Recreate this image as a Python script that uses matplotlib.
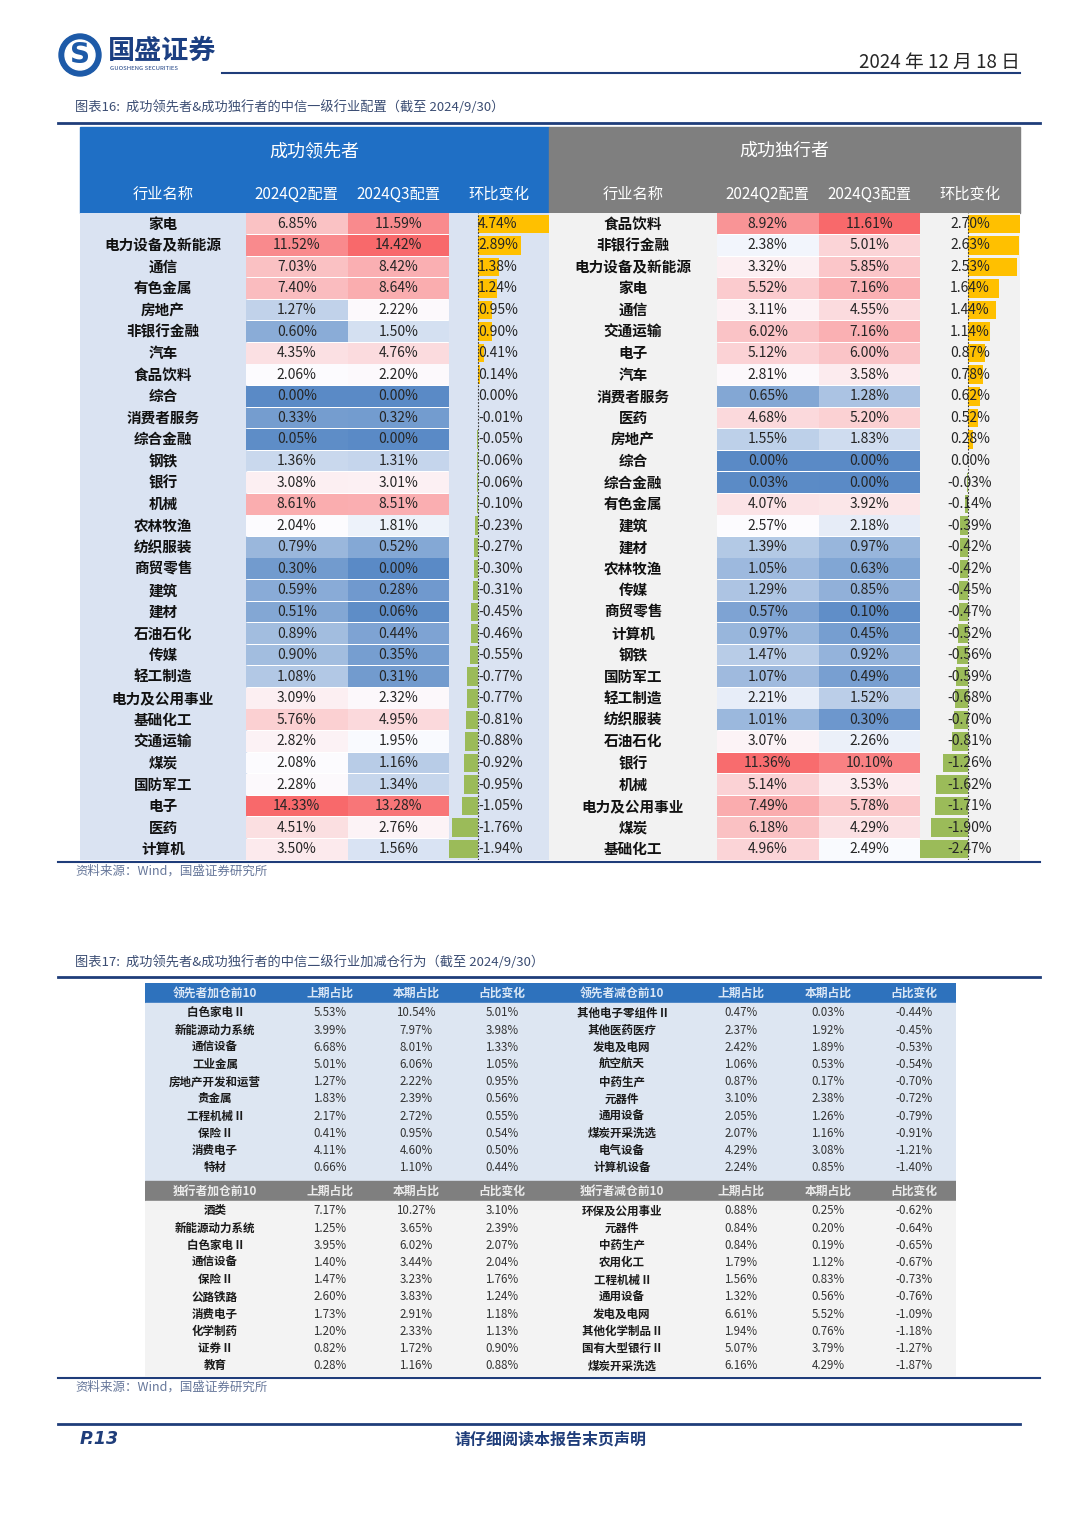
import numpy as np
import matplotlib
matplotlib.use('Agg')
import matplotlib.pyplot as plt
from matplotlib.colors import LinearSegmentedColormap, TwoSlopeNorm
from matplotlib.patches import Rectangle, Circle
from matplotlib.transforms import blended_transform_factory

plt.rcParams['font.family'] = ['Noto Sans CJK SC', 'DejaVu Sans']

# ---------------- data: figure 16 ----------------
names_L = ['家电', '电力设备及新能源', '通信', '有色金属', '房地产', '非银行金融', '汽车', '食品饮料',
           '综合', '消费者服务', '综合金融', '钢铁', '银行', '机械', '农林牧渔', '纺织服装', '商贸零售',
           '建筑', '建材', '石油石化', '传媒', '轻工制造', '电力及公用事业', '基础化工', '交通运输',
           '煤炭', '国防军工', '电子', '医药', '计算机']
q2_L = [6.85, 11.52, 7.03, 7.40, 1.27, 0.60, 4.35, 2.06, 0.00, 0.33, 0.05, 1.36, 3.08, 8.61, 2.04,
        0.79, 0.30, 0.59, 0.51, 0.89, 0.90, 1.08, 3.09, 5.76, 2.82, 2.08, 2.28, 14.33, 4.51, 3.50]
q3_L = [11.59, 14.42, 8.42, 8.64, 2.22, 1.50, 4.76, 2.20, 0.00, 0.32, 0.00, 1.31, 3.01, 8.51, 1.81,
        0.52, 0.00, 0.28, 0.06, 0.44, 0.35, 0.31, 2.32, 4.95, 1.95, 1.16, 1.34, 13.28, 2.76, 1.56]
chg_L = [4.74, 2.89, 1.38, 1.24, 0.95, 0.90, 0.41, 0.14, 0.00, -0.01, -0.05, -0.06, -0.06, -0.10,
         -0.23, -0.27, -0.30, -0.31, -0.45, -0.46, -0.55, -0.77, -0.77, -0.81, -0.88, -0.92, -0.95,
         -1.05, -1.76, -1.94]

names_R = ['食品饮料', '非银行金融', '电力设备及新能源', '家电', '通信', '交通运输', '电子', '汽车',
           '消费者服务', '医药', '房地产', '综合', '综合金融', '有色金属', '建筑', '建材', '农林牧渔',
           '传媒', '商贸零售', '计算机', '钢铁', '国防军工', '轻工制造', '纺织服装', '石油石化', '银行',
           '机械', '电力及公用事业', '煤炭', '基础化工']
q2_R = [8.92, 2.38, 3.32, 5.52, 3.11, 6.02, 5.12, 2.81, 0.65, 4.68, 1.55, 0.00, 0.03, 4.07, 2.57,
        1.39, 1.05, 1.29, 0.57, 0.97, 1.47, 1.07, 2.21, 1.01, 3.07, 11.36, 5.14, 7.49, 6.18, 4.96]
q3_R = [11.61, 5.01, 5.85, 7.16, 4.55, 7.16, 6.00, 3.58, 1.28, 5.20, 1.83, 0.00, 0.00, 3.92, 2.18,
        0.97, 0.63, 0.85, 0.10, 0.45, 0.92, 0.49, 1.52, 0.30, 2.26, 10.10, 3.53, 5.78, 4.29, 2.49]
chg_R = [2.70, 2.63, 2.53, 1.64, 1.44, 1.14, 0.87, 0.78, 0.62, 0.52, 0.28, 0.00, -0.03, -0.14, -0.39,
         -0.42, -0.42, -0.45, -0.47, -0.52, -0.56, -0.59, -0.68, -0.70, -0.81, -1.26, -1.62, -1.71,
         -1.90, -2.47]

head16_groups = ['成功领先者', '成功独行者']
head16_cols = ['行业名称', '2024Q2配置', '2024Q3配置', '环比变化']

# ---------------- data: figure 17 ----------------
lead_add_names = ['白色家电 II', '新能源动力系统', '通信设备', '工业金属', '房地产开发和运营', '贵金属',
                  '工程机械 II', '保险 II', '消费电子', '特材']
lead_add_prev = [5.53, 3.99, 6.68, 5.01, 1.27, 1.83, 2.17, 0.41, 4.11, 0.66]
lead_add_curr = [10.54, 7.97, 8.01, 6.06, 2.22, 2.39, 2.72, 0.95, 4.60, 1.10]
lead_add_chg = [5.01, 3.98, 1.33, 1.05, 0.95, 0.56, 0.55, 0.54, 0.50, 0.44]

lead_cut_names = ['其他电子零组件 II', '其他医药医疗', '发电及电网', '航空航天', '中药生产', '元器件',
                  '通用设备', '煤炭开采洗选', '电气设备', '计算机设备']
lead_cut_prev = [0.47, 2.37, 2.42, 1.06, 0.87, 3.10, 2.05, 2.07, 4.29, 2.24]
lead_cut_curr = [0.03, 1.92, 1.89, 0.53, 0.17, 2.38, 1.26, 1.16, 3.08, 0.85]
lead_cut_chg = [-0.44, -0.45, -0.53, -0.54, -0.70, -0.72, -0.79, -0.91, -1.21, -1.40]

solo_add_names = ['酒类', '新能源动力系统', '白色家电 II', '通信设备', '保险 II', '公路铁路', '消费电子',
                  '化学制药', '证券 II', '教育']
solo_add_prev = [7.17, 1.25, 3.95, 1.40, 1.47, 2.60, 1.73, 1.20, 0.82, 0.28]
solo_add_curr = [10.27, 3.65, 6.02, 3.44, 3.23, 3.83, 2.91, 2.33, 1.72, 1.16]
solo_add_chg = [3.10, 2.39, 2.07, 2.04, 1.76, 1.24, 1.18, 1.13, 0.90, 0.88]

solo_cut_names = ['环保及公用事业', '元器件', '中药生产', '农用化工', '工程机械 II', '通用设备',
                  '发电及电网', '其他化学制品 II', '国有大型银行 II', '煤炭开采洗选']
solo_cut_prev = [0.88, 0.84, 0.84, 1.79, 1.56, 1.32, 6.61, 1.94, 5.07, 6.16]
solo_cut_curr = [0.25, 0.20, 0.19, 1.12, 0.83, 0.56, 5.52, 0.76, 3.79, 4.29]
solo_cut_chg = [-0.62, -0.64, -0.65, -0.67, -0.73, -0.76, -1.09, -1.18, -1.27, -1.87]

head17_top = ['领先者加仓前10', '上期占比', '本期占比', '占比变化', '领先者减仓前10', '上期占比', '本期占比', '占比变化']
head17_bot = ['独行者加仓前10', '上期占比', '本期占比', '占比变化', '独行者减仓前10', '上期占比', '本期占比', '占比变化']

# ---------------- figure ----------------
W, H = 1080, 1527
fig = plt.figure(figsize=(W / 100, H / 100), dpi=100)
fig.patch.set_facecolor('white')

NAVY = '#1f3d7a'
TITLE_C = '#3b4d73'
TXT = '#262626'


def add_ax(x0, y0, x1, y1, zorder=1):
    ax = fig.add_axes([x0 / W, 1 - y1 / H, (x1 - x0) / W, (y1 - y0) / H], zorder=zorder)
    ax.set_axis_off()
    return ax


pg = add_ax(0, 0, W, H, zorder=0)
pg.set_xlim(0, W)
pg.set_ylim(H, 0)

# header / logo
pg.add_patch(Circle((80, 55), 21, color='#1d5aa8'))
pg.add_patch(Circle((80, 55), 15, color='white'))
pg.text(80, 55, 'S', color='#1d5aa8', fontsize=20, fontweight='bold', ha='center', va='center',
        family=['DejaVu Sans'])
pg.text(108, 51, '国盛证券', fontsize=19.5, fontweight='bold', color='#1b3f82', va='center')
pg.text(110, 69, 'GUOSHENG SECURITIES', fontsize=4.3, color='#1b3f82', va='center')
pg.plot([222, 1020], [73, 73], color=NAVY, lw=1.5)
pg.text(1020, 62, '2024 年 12 月 18 日', fontsize=13.5, color=TXT, ha='right', va='center')

# figure 16 title
pg.text(75, 107, '图表16:  成功领先者&成功独行者的中信一级行业配置（截至 2024/9/30）', fontsize=9.5,
        color=TITLE_C, va='center')
pg.plot([58, 1040], [123, 123], color=NAVY, lw=2)

# ---------------- figure 16 tables ----------------
blue_white_red = LinearSegmentedColormap.from_list('bwr_xl', ['#5A8AC6', '#FCFCFF', '#F8696B'])
TOP, BOT = 213, 860
HEAD_TOP = 127

halves = [
    dict(x0=80, x1=549, name_w=166, col_w=101.5, hcol='#1f6fc5', bg='#dae3f2',
         names=names_L, q2=q2_L, q3=q3_L, chg=chg_L, group=head16_groups[0], chg_text='left'),
    dict(x0=549, x1=1020, name_w=168, col_w=101.5, hcol='#7f7f7f', bg='#f2f2f2',
         names=names_R, q2=q2_R, q3=q3_R, chg=chg_R, group=head16_groups[1], chg_text='center'),
]

for hf in halves:
    x0, x1 = hf['x0'], hf['x1']
    nw, cw = hf['name_w'], hf['col_w']
    xq2 = x0 + nw
    xq3 = xq2 + cw
    xc = xq3 + cw
    # header block
    pg.add_patch(Rectangle((x0, HEAD_TOP), x1 - x0, TOP - HEAD_TOP, color=hf['hcol']))
    pg.text((x0 + x1) / 2, 151, hf['group'], color='white', fontsize=13, ha='center', va='center')
    centers = [x0 + nw / 2, xq2 + cw / 2, xq3 + cw / 2, (xc + x1) / 2]
    for cx, lab in zip(centers, head16_cols):
        pg.text(cx, 194, lab, color='white', fontsize=11, ha='center', va='center')

    names = hf['names']
    n = len(names)
    rows = np.arange(n)
    q2 = np.array(hf['q2'])
    q3 = np.array(hf['q3'])
    chg = np.array(hf['chg'])

    ax = add_ax(x0, TOP, x1, BOT, zorder=1)
    ax.set_xlim(x0, x1)
    ax.set_ylim(n - 0.5, -0.5)
    ax.add_patch(Rectangle((x0, -0.5), nw, n, color=hf['bg'], zorder=0))
    ax.add_patch(Rectangle((xc, -0.5), x1 - xc, n, color=hf['bg'], zorder=0))

    allv = np.concatenate([q2, q3])
    norm = TwoSlopeNorm(vmin=allv.min(), vcenter=np.percentile(allv, 50), vmax=allv.max())
    ax.barh(rows, cw, left=xq2, height=0.96, color=blue_white_red(norm(q2)), zorder=1)
    ax.barh(rows, cw, left=xq3, height=0.96, color=blue_white_red(norm(q3)), zorder=1)

    for i in rows:
        ax.text(x0 + nw / 2, i, names[i], ha='center', va='center', fontsize=10.5, color='#111111',
                fontweight='bold', zorder=3)
        ax.text(xq2 + cw / 2, i, f'{q2[i]:.2f}%', ha='center', va='center', fontsize=10, color=TXT, zorder=3)
        ax.text(xq3 + cw / 2, i, f'{q3[i]:.2f}%', ha='center', va='center', fontsize=10, color=TXT, zorder=3)

    # data bars
    bx = add_ax(xc, TOP, x1, BOT, zorder=2)
    bx.set_xlim(chg.min(), chg.max())
    bx.set_ylim(n - 0.5, -0.5)
    bx.barh(rows, chg, height=0.86, color=np.where(chg >= 0, '#ffc000', '#9bbb59'), zorder=1)
    bx.axvline(0, color='#333333', lw=0.8, ls=(0, (1.5, 1.5)), zorder=2)
    if hf['chg_text'] == 'left':
        for i in rows:
            bx.text(0, i, f'{chg[i]:.2f}%', ha='left', va='center', fontsize=10, color=TXT, zorder=3)
    else:
        tr = blended_transform_factory(bx.transAxes, bx.transData)
        for i in rows:
            bx.text(0.5, i, f'{chg[i]:.2f}%', ha='center', va='center', fontsize=10, color=TXT,
                    transform=tr, zorder=3)

pg.plot([58, 1040], [862, 862], color=NAVY, lw=1.5)
pg.text(75, 871, '资料来源：Wind，国盛证券研究所', fontsize=9, color='#66779a', va='center')

# ---------------- figure 17 ----------------
pg.text(75, 962, '图表17:  成功领先者&成功独行者的中信二级行业加减仓行为（截至 2024/9/30）', fontsize=9.5,
        color=TITLE_C, va='center')
pg.plot([58, 1040], [977, 977], color=NAVY, lw=2)

ax17 = add_ax(145, 983, 956, 1377, zorder=1)
ax17.set_xlim(145, 956)
ax17.set_ylim(1377, 983)
col17 = [215, 330, 416, 502, 622, 741, 828, 914]

blocks = [
    dict(htop=983, hcol='#2e72bd', htxt='#dce8f6', bg='#dde6f2', head=head17_top,
         left=(lead_add_names, lead_add_prev, lead_add_curr, lead_add_chg),
         right=(lead_cut_names, lead_cut_prev, lead_cut_curr, lead_cut_chg)),
    dict(htop=1181, hcol='#7f7f7f', htxt='#ececec', bg='#f3f3f3', head=head17_bot,
         left=(solo_add_names, solo_add_prev, solo_add_curr, solo_add_chg),
         right=(solo_cut_names, solo_cut_prev, solo_cut_curr, solo_cut_chg)),
]
ROWH = 17.2
for bi, b in enumerate(blocks):
    ht = b['htop']
    body_top = ht + 20
    body_bot = 1181 if bi == 0 else 1377
    ax17.add_patch(Rectangle((145, ht), 811, 20, color=b['hcol']))
    ax17.add_patch(Rectangle((145, body_top), 811, body_bot - body_top, color=b['bg']))
    for cx, lab in zip(col17, b['head']):
        ax17.text(cx, ht + 10.5, lab, ha='center', va='center', fontsize=8.5, color=b['htxt'],
                  fontweight='bold')
    first = ht + 30
    for side, offs in ((b['left'], 0), (b['right'], 4)):
        nm, pv, cv, ch = side
        for i in range(len(nm)):
            y = first + i * ROWH
            ax17.text(col17[offs], y, nm[i], ha='center', va='center', fontsize=8.3, color='#1a1a1a',
                      fontweight='bold')
            ax17.text(col17[offs + 1], y, f'{pv[i]:.2f}%', ha='center', va='center', fontsize=8.3, color='#333333')
            ax17.text(col17[offs + 2], y, f'{cv[i]:.2f}%', ha='center', va='center', fontsize=8.3, color='#333333')
            ax17.text(col17[offs + 3], y, f'{ch[i]:.2f}%', ha='center', va='center', fontsize=8.3, color='#333333')

pg.plot([58, 1040], [1378, 1378], color=NAVY, lw=1.5)
pg.text(75, 1387, '资料来源：Wind，国盛证券研究所', fontsize=9, color='#66779a', va='center')

# footer
pg.plot([58, 1020], [1424, 1424], color=NAVY, lw=2)
pg.text(80, 1439, 'P.13', fontsize=12.5, fontweight='bold', style='italic', color=NAVY, va='center',
        family=['DejaVu Sans'])
pg.text(550, 1439, '请仔细阅读本报告末页声明', fontsize=11.5, fontweight='bold', color=NAVY,
        ha='center', va='center')

fig.savefig('out.png', dpi=100, facecolor='white')
